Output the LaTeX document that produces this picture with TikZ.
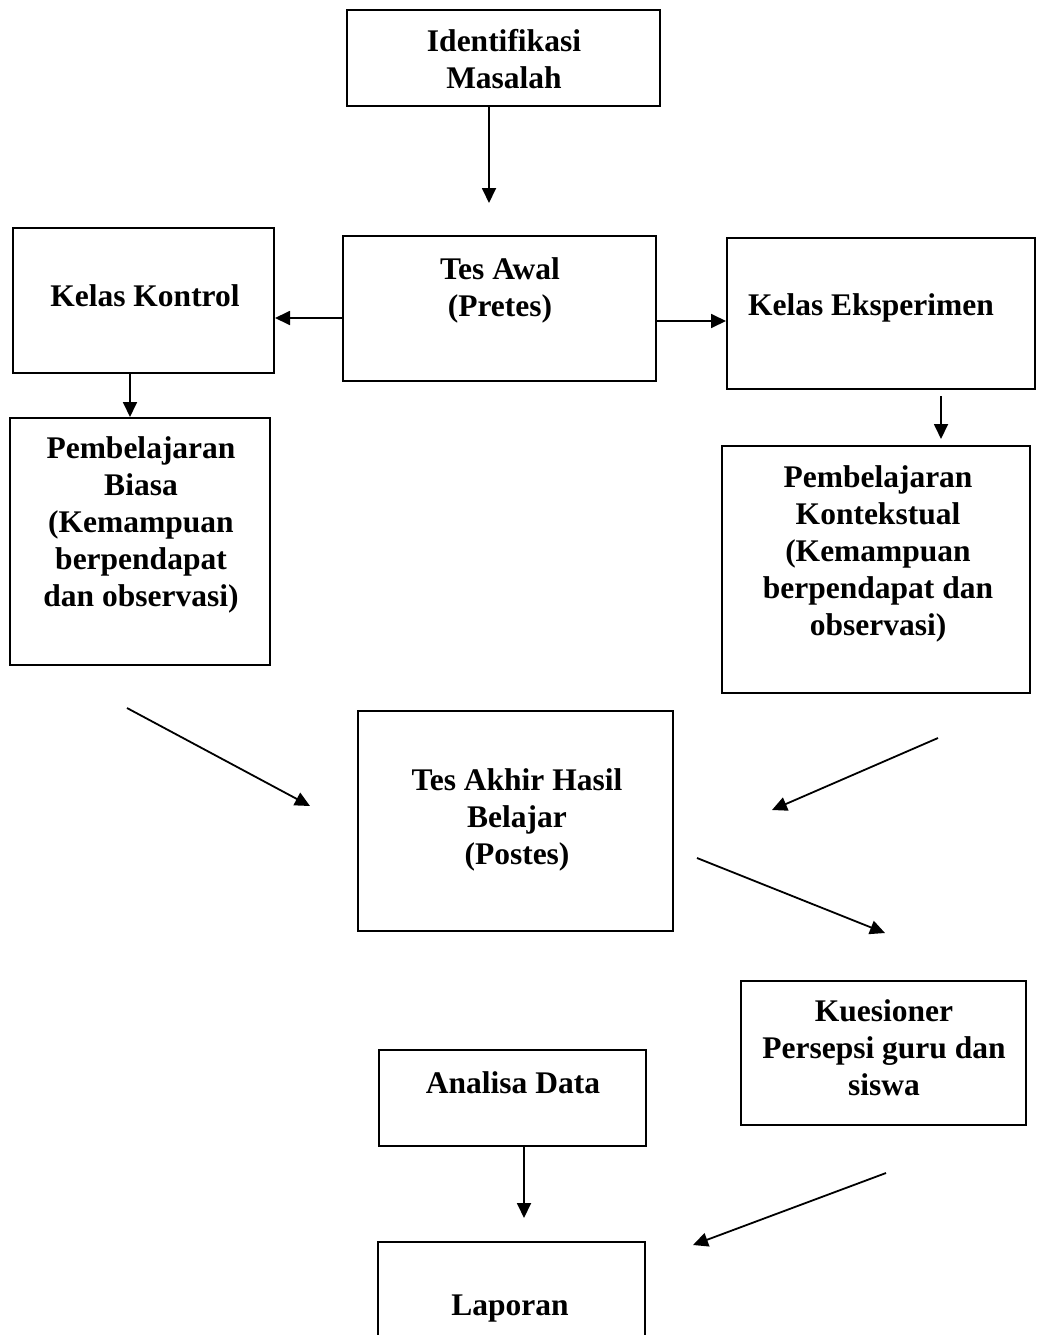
\documentclass[tikz,border=0pt]{standalone}
\usepackage{fontspec}
\setmainfont{Liberation Serif}
\usetikzlibrary{arrows.meta}
\begin{document}
\begin{tikzpicture}[x=1pt,y=-1pt,
  box/.style={draw, line width=2pt, inner sep=0pt},
  txt/.style={font=\fontsize{31.5}{37}\selectfont\bfseries, align=center, inner sep=0pt},
  arr/.style={line width=1.8pt, -{Triangle[length=15pt,width=14pt]}}]
\clip (0,0) rectangle (1043,1335);
% boxes
\node[box, minimum width=313pt, minimum height=96pt]  (iden)    at (503.5,58)   {};
\node[box, minimum width=313pt, minimum height=145pt] (awal)    at (499.5,308.5) {};
\node[box, minimum width=261pt, minimum height=145pt] (kontrol) at (143.5,300.5) {};
\node[box, minimum width=308pt, minimum height=151pt] (eksp)    at (881,313.5)  {};
\node[box, minimum width=260pt, minimum height=247pt] (biasa)   at (140,541.5)  {};
\node[box, minimum width=308pt, minimum height=247pt] (konteks) at (876,569.5)  {};
\node[box, minimum width=315pt, minimum height=220pt] (postes)  at (515.5,821)  {};
\node[box, minimum width=285pt, minimum height=144pt] (kues)    at (883.5,1053) {};
\node[box, minimum width=267pt, minimum height=96pt]  (anal)    at (512.5,1098) {};
\node[box, minimum width=267pt, minimum height=160pt] (lap)     at (511,1322)   {};
% texts
\node[txt] (idenT)    at (504,59)    {Identifikasi\\Masalah};
\node[txt] (awalT)    at (500,290)   {Tes Awal\\(Pretes)};
\node[txt] (kontrolT) at (145,296)   {Kelas Kontrol};
\node[txt] (ekspT)    at (871,308)   {Kelas Eksperimen};
\node[txt] (biasaT)   at (141,525)   {Pembelajaran\\Biasa\\(Kemampuan\\berpendapat\\dan observasi)};
\node[txt] (konteksT) at (878,554)   {Pembelajaran\\Kontekstual\\(Kemampuan\\berpendapat dan\\observasi)};
\node[txt] (postesT)  at (517,820)   {Tes Akhir Hasil\\Belajar\\(Postes)};
\node[txt] (kuesT)    at (884,1048)  {Kuesioner\\Persepsi guru dan\\siswa};
\node[txt] (analT)    at (513,1083)  {Analisa Data};
\node[txt] (lapT)     at (510,1309)  {Laporan};
% free ends
\coordinate (c1) at (489,203);
\coordinate (c5) at (524,1218);
\coordinate (d1a) at (127,708);  \coordinate (d1b) at (310,806);
\coordinate (d2a) at (938,738);  \coordinate (d2b) at (772,810);
\coordinate (d3a) at (697,858);  \coordinate (d3b) at (885,933);
\coordinate (d4a) at (886,1173); \coordinate (d4b) at (693,1245);
% connectors
\draw[arr] (iden.south -| c1) -- (c1);
\path ([yshift=-9.5pt]awal.west) coordinate (p1);
\draw[arr] (p1) -- (kontrol.east |- p1);
\path ([yshift=-12.5pt]awal.east) coordinate (p2);
\draw[arr] (p2) -- (eksp.west |- p2);
\path ([xshift=-13.5pt]kontrol.south) coordinate (p3);
\draw[arr] (p3) -- (p3 |- biasa.north);
\path ([xshift=60pt,yshift=-6pt]eksp.south) coordinate (q1);
\path ([yshift=6pt]konteks.north) coordinate (q2);
\draw[arr] (q1) -- (q1 |- q2);
\draw[arr] (d1a) -- (d1b);
\draw[arr] (d2a) -- (d2b);
\draw[arr] (d3a) -- (d3b);
\draw[arr] (anal.south -| c5) -- (c5);
\draw[arr] (d4a) -- (d4b);
\end{tikzpicture}
\end{document}
